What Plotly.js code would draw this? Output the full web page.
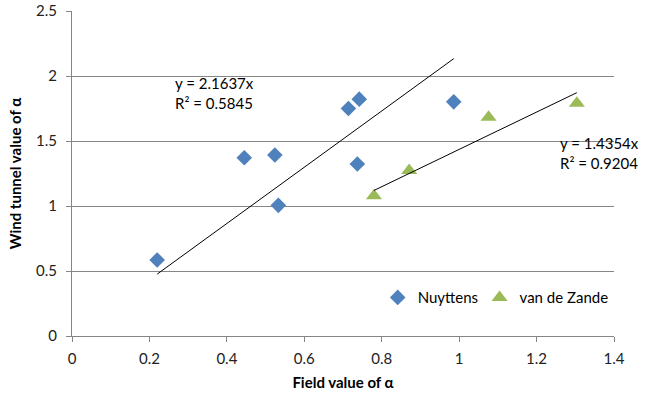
<!DOCTYPE html>
<html>
<head>
<meta charset="utf-8">
<script src="https://cdn.plot.ly/plotly-3.0.1.min.js"></script>
<style>html,body{margin:0;padding:0;background:#fff;}#chart{width:649px;height:397px;}</style>
</head>
<body>
<div id="chart"></div>
<script>
const nuyttensX = [0.220, 0.445, 0.524, 0.533, 0.714, 0.742, 0.737, 0.986];
const nuyttensY = [0.585, 1.371, 1.392, 1.005, 1.750, 1.822, 1.323, 1.801];
const zandeX = [0.780, 0.871, 1.076, 1.304];
const zandeY = [1.079, 1.273, 1.683, 1.791];
const nuyttensSlope = 2.1637, nuyttensR2 = 0.5845;
const zandeSlope = 1.4354, zandeR2 = 0.9204;
const xTicks = [0, 0.2, 0.4, 0.6, 0.8, 1, 1.2, 1.4];
const yTicks = [0, 0.5, 1, 1.5, 2, 2.5];

function trend(xs, k) {
  const lo = Math.min(...xs), hi = Math.max(...xs);
  return {x: [lo, hi], y: [k * lo, k * hi]};
}
const tN = trend(nuyttensX, nuyttensSlope);
const tZ = trend(zandeX, zandeSlope);
const font = "Lato, 'Open Sans', sans-serif";

const data = [
  {x: nuyttensX, y: nuyttensY, type: 'scatter', mode: 'markers', name: 'Nuyttens', legend: 'legend',
   marker: {symbol: 'diamond', color: '#4F81BD', size: 12}},
  {x: zandeX, y: zandeY, type: 'scatter', mode: 'markers', name: 'van de Zande', legend: 'legend2',
   marker: {symbol: 'triangle-up', color: '#9BBB59', size: 14}},
  {x: tN.x, y: tN.y, type: 'scatter', mode: 'lines', showlegend: false, hoverinfo: 'skip',
   line: {color: '#000', width: 1}},
  {x: tZ.x, y: tZ.y, type: 'scatter', mode: 'lines', showlegend: false, hoverinfo: 'skip',
   line: {color: '#000', width: 1}}
];

const legendBase = {orientation: 'h', xanchor: 'left', y: 0.118, yanchor: 'middle',
  bgcolor: 'rgba(0,0,0,0)', font: {size: 15, family: font}, itemwidth: 30};

const layout = {
  width: 649, height: 397,
  margin: {l: 72, r: 35, t: 11, b: 60.5, pad: 0, autoexpand: false},
  paper_bgcolor: '#fff', plot_bgcolor: '#fff',
  font: {family: font, size: 15, color: '#000'},
  xaxis: {range: [0, 1.4], tickvals: xTicks, ticktext: xTicks.map(String),
    showgrid: false, zeroline: false, showline: true, linecolor: '#868686', linewidth: 1,
    ticks: 'outside', ticklen: 5, tickcolor: '#868686', ticklabelstandoff: 4,
    tickfont: {size: 15, family: font, color: '#222'},
    title: {text: '<b>Field value of α</b>', font: {size: 15, family: font}, standoff: 11}},
  yaxis: {range: [0, 2.5], tickvals: yTicks, ticktext: yTicks.map(String),
    showgrid: true, gridcolor: '#868686', gridwidth: 1, zeroline: false,
    showline: true, linecolor: '#868686', linewidth: 1,
    ticks: 'outside', ticklen: 5, tickcolor: '#868686', ticklabelstandoff: 6,
    tickfont: {size: 15, family: font, color: '#222'},
    title: {text: '<b>Wind tunnel value of α</b>', font: {size: 15, family: font}, standoff: 10}},
  showlegend: true,
  legend: Object.assign({}, legendBase, {x: 0.564}),
  legend2: Object.assign({}, legendBase, {x: 0.752}),
  annotations: [
    {x: 0.262, y: 1.87, xref: 'x', yref: 'y', xanchor: 'left', yanchor: 'middle', align: 'left',
     showarrow: false, text: 'y = ' + nuyttensSlope + 'x<br>R² = ' + nuyttensR2, font: {size: 15, family: font}},
    {x: 1.255, y: 1.41, xref: 'x', yref: 'y', xanchor: 'left', yanchor: 'middle', align: 'left',
     showarrow: false, text: 'y = ' + zandeSlope + 'x<br>R² = ' + zandeR2, font: {size: 15, family: font}}
  ]
};
Plotly.newPlot('chart', data, layout, {staticPlot: true, displayModeBar: false});
</script>
</body>
</html>
